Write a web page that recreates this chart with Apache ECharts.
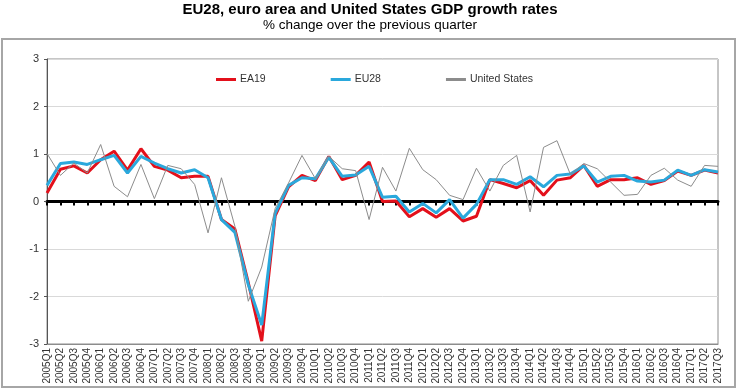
<!DOCTYPE html>
<html>
<head>
<meta charset="utf-8">
<script src="https://cdn.jsdelivr.net/npm/echarts@6/dist/echarts.min.js"></script>
<style>
html,body{margin:0;padding:0;background:#fff;}
#chart{width:750px;height:390px;}
</style>
</head>
<body>
<div id="chart"></div>
<script>
var categories = [];
var years = [2005,2006,2007,2008,2009,2010,2011,2012,2013,2014,2015,2016,2017];
years.forEach(function(y){ [1,2,3,4].forEach(function(q){ categories.push(y + 'Q' + q); }); });
categories = categories.slice(0, 51);

var ea19 = [0.18,0.68,0.75,0.6,0.88,1.06,0.66,1.11,0.74,0.66,0.5,0.53,0.53,-0.38,-0.58,-1.71,-2.94,-0.3,0.31,0.55,0.44,0.95,0.46,0.55,0.83,0.0,0.01,-0.32,-0.15,-0.33,-0.15,-0.41,-0.31,0.46,0.38,0.29,0.44,0.13,0.45,0.5,0.76,0.32,0.46,0.46,0.5,0.36,0.44,0.64,0.55,0.66,0.6];
var eu28 = [0.34,0.8,0.83,0.78,0.88,0.97,0.6,0.95,0.81,0.69,0.6,0.67,0.5,-0.38,-0.65,-1.75,-2.6,-0.25,0.34,0.5,0.48,0.93,0.53,0.56,0.74,0.09,0.11,-0.22,-0.04,-0.24,0.04,-0.35,-0.06,0.46,0.46,0.36,0.52,0.31,0.55,0.58,0.75,0.41,0.53,0.55,0.43,0.41,0.45,0.66,0.55,0.67,0.62];
var us = [1.01,0.55,0.81,0.6,1.2,0.32,0.1,0.78,0.06,0.76,0.69,0.36,-0.66,0.5,-0.52,-2.1,-1.38,-0.15,0.39,0.97,0.48,0.95,0.69,0.65,-0.38,0.72,0.22,1.12,0.67,0.46,0.13,0.04,0.7,0.22,0.76,0.97,-0.22,1.14,1.28,0.57,0.8,0.69,0.41,0.13,0.15,0.55,0.7,0.45,0.32,0.76,0.74];
var yTicks = [-3,-2,-1,0,1,2,3];

var FONT = '"Liberation Sans", Arial, sans-serif';
var chart = echarts.init(document.getElementById('chart'), null, {renderer:'canvas'});
chart.setOption({
  animation:false,
  backgroundColor:'#ffffff',
  title:[
    {text:'EU28, euro area and United States GDP growth rates', left:370, textAlign:'center', top:2, padding:0,
     textStyle:{fontFamily:FONT, fontSize:15, fontWeight:'bold', color:'#000'}},
    {text:'% change over the previous quarter', left:370, textAlign:'center', top:18, padding:0,
     textStyle:{fontFamily:FONT, fontSize:13.5, fontWeight:'normal', color:'#000'}}
  ],
  graphic:[
    {type:'rect', shape:{x:2, y:39, width:733, height:348}, style:{fill:'none', stroke:'#a6a6a6', lineWidth:2}, z:-1}
  ],
  legend:{
    left:216, top:74, padding:0, itemWidth:20, itemHeight:3, itemGap:65, icon:'rect',
    textStyle:{fontFamily:FONT, fontSize:10.5, color:'#333', padding:[0,0,0,-1]},
    data:['EA19','EU28','United States']
  },
  grid:{left:47, right:32, top:59, bottom:46, show:true, borderColor:'#8c8c8c', borderWidth:1},
  xAxis:[
    {type:'category', data:categories, boundaryGap:false, position:'bottom',
     axisLine:{onZero:false, lineStyle:{color:'#8c8c8c', width:1}},
     axisTick:{show:false},
     axisLabel:{rotate:90, interval:0, fontFamily:FONT, fontSize:10, color:'#333', margin:4},
     splitLine:{show:false}},
    {type:'category', data:categories, boundaryGap:false, position:'top',
     axisLine:{onZero:true, lineStyle:{color:'#000', width:3}},
     axisTick:{show:true, inside:true, length:4, alignWithLabel:true, interval:0, lineStyle:{color:'#000', width:2}},
     axisLabel:{show:false}, splitLine:{show:false}}
  ],
  yAxis:{
    type:'value', min:yTicks[0], max:yTicks[yTicks.length-1], interval:1,
    axisLine:{show:true, lineStyle:{color:'#555', width:1}},
    axisTick:{show:true, length:3, lineStyle:{color:'#555'}},
    axisLabel:{fontFamily:FONT, fontSize:11, color:'#333', margin:8},
    splitLine:{show:true, lineStyle:{color:'#d9d9d9', width:1}}
  },
  series:[
    {name:'EA19', type:'line', data:ea19, xAxisIndex:0, symbol:'none', lineStyle:{color:'#e3101b', width:3}, itemStyle:{color:'#e3101b'}, z:3},
    {name:'EU28', type:'line', data:eu28, xAxisIndex:0, symbol:'none', lineStyle:{color:'#2aa8dc', width:3}, itemStyle:{color:'#2aa8dc'}, z:4},
    {name:'United States', type:'line', data:us, xAxisIndex:0, symbol:'none', lineStyle:{color:'#8c8c8c', width:1}, itemStyle:{color:'#8c8c8c'}, z:5}
  ]
});
</script>
</body>
</html>
